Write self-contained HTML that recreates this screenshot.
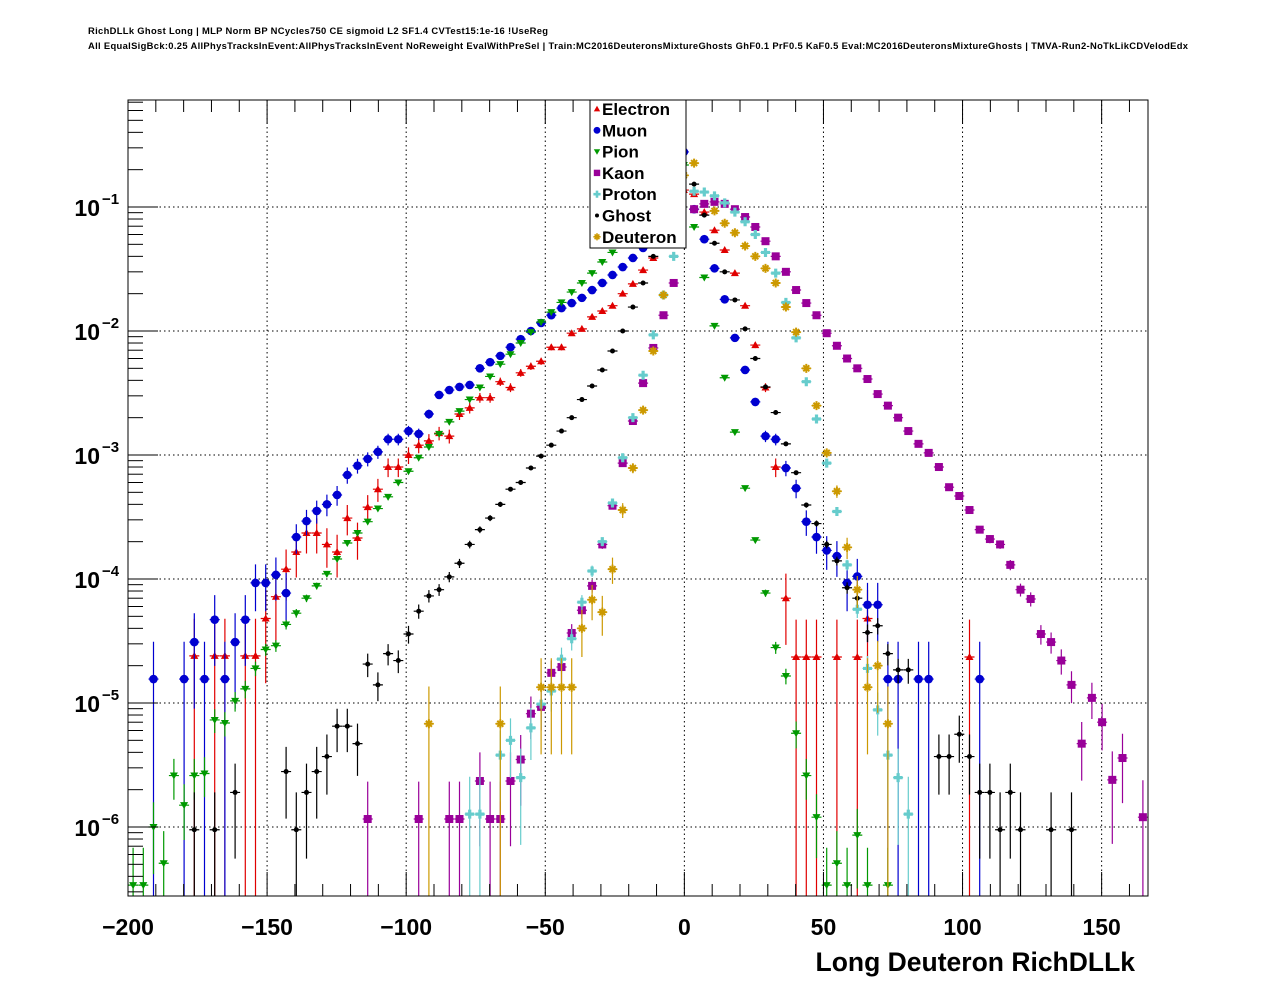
<!DOCTYPE html>
<html><head><meta charset="utf-8">
<style>
html,body{margin:0;padding:0;background:#fff;}
svg{display:block;font-family:"Liberation Sans",sans-serif;}
</style></head>
<body>
<svg id="chart" width="1276" height="996" viewBox="0 0 1276 996">
<text x="88" y="34" font-size="9.4" font-weight="bold" textLength="460">RichDLLk Ghost Long | MLP Norm BP NCycles750 CE sigmoid L2 SF1.4 CVTest15:1e-16 !UseReg</text>
<text x="88" y="49" font-size="9.4" font-weight="bold" textLength="1100">All EqualSigBck:0.25 AllPhysTracksInEvent:AllPhysTracksInEvent NoReweight EvalWithPreSel | Train:MC2016DeuteronsMixtureGhosts GhF0.1 PrF0.5 KaF0.5 Eval:MC2016DeuteronsMixtureGhosts | TMVA-Run2-NoTkLikCDVelodEdx</text>
<g id="grid"></g>
<g id="series"></g>
<rect x="128" y="100" width="1020" height="796" fill="none" stroke="#000" stroke-width="1"/>
<g id="ticks"></g>
<g id="legend"></g>
<text x="1135" y="971" font-size="26.5" font-weight="bold" text-anchor="end">Long Deuteron RichDLLk</text>
</svg>
<script>
// ---- data ----
const xTickLabels = [-200, -150, -100, -50, 0, 50, 100, 150];
const yTickExps = [-1, -2, -3, -4, -5, -6];
const seriesNames = ["Electron","Muon","Pion","Kaon","Proton","Ghost","Deuteron"];

const electronBins = [6,8,9,11,12,13,14,15,16,17,18,19,20,21,22,23,24,25,26,27,28,29,30,31,32,33,34,35,36,37,38,39,40,41,42,43,44,45,46,47,48,49,50,51,52,53,54,55,56,57,58,59,60,61,62,63,64,65,66,67,69,71,72,82];
const electronVals = [2.4e-5,2.4e-5,2.4e-5,2.4e-5,2.4e-5,4.8e-5,7.2e-5,1.2e-4,1.65e-4,2.35e-4,2.35e-4,1.9e-4,1.65e-4,3.1e-4,2.14e-4,3.8e-4,5.3e-4,8.0e-4,8.0e-4,1.0e-3,1.2e-3,1.3e-3,1.5e-3,1.42e-3,2.14e-3,2.4e-3,2.9e-3,2.9e-3,3.9e-3,3.5e-3,4.6e-3,5.2e-3,5.7e-3,7.4e-3,7.4e-3,9.6e-3,1.04e-2,1.3e-2,1.45e-2,1.6e-2,2.0e-2,2.4e-2,3.1e-2,3.88e-2,5.4e-2,8.6e-2,0.137,0.127,9.1e-2,6.5e-2,4.5e-2,2.93e-2,1.6e-2,7.7e-3,3.5e-3,8.0e-4,7.0e-5,2.35e-5,2.35e-5,2.35e-5,2.35e-5,2.35e-5,4.8e-5,2.35e-5];

const muonBins = [2,5,6,7,8,9,10,11,12,13,14,15,16,17,18,19,20,21,22,23,24,25,26,27,28,29,30,31,32,33,34,35,36,37,38,39,40,41,42,43,44,45,46,47,48,49,50,51,52,53,54,55,56,57,58,59,60,61,62,63,64,65,66,67,68,69,70,71,72,73,74,75,77,78,83];
const muonVals = [1.56e-5,1.56e-5,3.1e-5,1.56e-5,4.7e-5,1.56e-5,3.1e-5,4.7e-5,9.3e-5,9.3e-5,1.08e-4,7.7e-5,2.18e-4,2.93e-4,3.54e-4,4.0e-4,4.76e-4,6.9e-4,8.2e-4,9.3e-4,1.06e-3,1.34e-3,1.34e-3,1.56e-3,1.48e-3,2.14e-3,3.05e-3,3.34e-3,3.54e-3,3.67e-3,5.0e-3,5.6e-3,6.3e-3,7.4e-3,8.6e-3,1.0e-2,1.16e-2,1.34e-2,1.53e-2,1.68e-2,1.85e-2,2.14e-2,2.44e-2,2.83e-2,3.28e-2,3.88e-2,4.67e-2,5.4e-2,6.8e-2,0.114,0.278,9.6e-2,5.5e-2,3.2e-2,1.8e-2,8.8e-3,4.85e-3,2.68e-3,1.42e-3,1.34e-3,7.85e-4,5.4e-4,2.9e-4,2.18e-4,1.7e-4,1.53e-4,9.3e-5,1.05e-4,6.2e-5,6.2e-5,1.56e-5,1.56e-5,1.56e-5,1.56e-5,1.56e-5];

const pionBins = [0,1,2,3,4,5,6,7,8,9,10,11,12,13,14,15,16,17,18,19,20,21,22,23,24,25,26,27,28,29,30,31,32,33,34,35,36,37,38,39,40,41,42,43,44,45,46,47,48,49,50,51,52,53,54,55,56,57,58,59,60,61,62,63,64,65,66,67,68,69,70,71,72,74];
const pionVals = [3.4e-7,3.4e-7,1.0e-6,5.1e-7,2.6e-6,1.5e-6,2.6e-6,2.7e-6,7.3e-6,6.9e-6,1.04e-5,1.3e-5,1.9e-5,2.7e-5,2.9e-5,4.3e-5,5.3e-5,7.0e-5,8.8e-5,1.1e-4,1.45e-4,1.95e-4,2.35e-4,2.9e-4,3.7e-4,4.6e-4,6.0e-4,7.4e-4,9.5e-4,1.16e-3,1.48e-3,1.85e-3,2.26e-3,2.8e-3,3.5e-3,4.3e-3,5.4e-3,6.5e-3,8.0e-3,9.8e-3,1.18e-2,1.42e-2,1.7e-2,2.06e-2,2.44e-2,2.93e-2,3.6e-2,4.3e-2,5.2e-2,6.5e-2,8.2e-2,0.104,0.132,0.17,0.218,6.9e-2,2.7e-2,1.1e-2,4.2e-3,1.53e-3,5.4e-4,2.06e-4,7.7e-5,2.8e-5,1.65e-5,5.7e-6,2.6e-6,1.2e-6,3.4e-7,5.1e-7,3.4e-7,8.6e-7,3.4e-7,3.4e-7];

const kaonBins = [23,28,31,32,34,35,36,37,38,39,40,41,42,43,44,45,46,47,48,49,50,51,52,53,55,56,57,58,59,60,61,62,63,64,65,66,67,68,69,70,71,72,73,74,75,76,77,78,79,80,81,82,83,84,85,86,87,88,89,90,91,92,93,94,95,96,97,99];
const kaonVals = [1.16e-6,1.16e-6,1.16e-6,1.16e-6,2.35e-6,1.16e-6,1.16e-6,2.35e-6,3.5e-6,8.2e-6,9.3e-6,1.75e-5,1.95e-5,3.67e-5,5.6e-5,8.8e-5,1.9e-4,3.9e-4,8.6e-4,1.88e-3,3.8e-3,7.3e-3,1.34e-2,2.44e-2,9.6e-2,0.106,0.11,0.106,9.6e-2,8.3e-2,6.9e-2,5.3e-2,4.0e-2,3.0e-2,2.14e-2,1.68e-2,1.34e-2,9.6e-3,7.6e-3,6.0e-3,5.0e-3,4.1e-3,3.1e-3,2.5e-3,2.0e-3,1.56e-3,1.23e-3,1.04e-3,8.0e-4,5.5e-4,4.67e-4,3.6e-4,2.5e-4,2.1e-4,1.9e-4,1.3e-4,8.2e-5,6.9e-5,3.6e-5,3.1e-5,2.2e-5,1.4e-5,4.7e-6,1.1e-5,7.0e-6,2.4e-6,3.6e-6,1.2e-6];

const protonBins = [33,34,36,37,38,39,40,41,42,43,44,45,46,47,48,49,50,51,52,53,55,56,57,58,59,60,61,62,63,64,65,66,67,68,69,70,71,72,73,74,75,76];
const protonVals = [1.27e-6,1.27e-6,3.8e-6,5.0e-6,2.5e-6,6.3e-6,9.8e-6,1.25e-5,2.26e-5,3.3e-5,6.5e-5,1.16e-4,2.0e-4,4.1e-4,9.5e-4,2.0e-3,4.4e-3,9.3e-3,1.95e-2,4.0e-2,0.134,0.132,0.123,0.108,9.1e-2,7.6e-2,6.0e-2,4.3e-2,2.93e-2,1.7e-2,8.8e-3,3.9e-3,1.95e-3,8.6e-4,3.5e-4,1.3e-4,5.7e-5,1.9e-5,8.8e-6,3.8e-6,2.5e-6,1.27e-6];

const ghostBins = [6,8,10,15,16,17,18,19,20,21,22,23,24,25,26,27,28,29,30,31,32,33,34,35,36,37,38,39,40,41,42,43,44,45,46,47,48,49,50,51,55,56,57,58,59,60,61,62,63,64,65,66,67,68,69,70,71,72,73,74,75,76,79,80,81,82,83,84,85,86,87,90,92];
const ghostVals = [9.5e-7,9.5e-7,1.9e-6,2.8e-6,9.5e-7,1.9e-6,2.8e-6,3.7e-6,6.5e-6,6.5e-6,4.7e-6,2.06e-5,1.4e-5,2.5e-5,2.2e-5,3.6e-5,5.5e-5,7.3e-5,8.2e-5,1.04e-4,1.34e-4,1.9e-4,2.5e-4,3.1e-4,4.0e-4,5.3e-4,6.0e-4,7.85e-4,9.8e-4,1.2e-3,1.56e-3,2.0e-3,2.8e-3,3.6e-3,4.85e-3,6.9e-3,1.0e-2,1.56e-2,2.44e-2,4.0e-2,0.153,8.6e-2,5.1e-2,3.0e-2,1.78e-2,1.04e-2,6.0e-3,3.54e-3,2.2e-3,1.23e-3,7.2e-4,3.95e-4,2.8e-4,1.9e-4,1.4e-4,8.5e-5,7.0e-5,3.7e-5,4.2e-5,2.5e-5,1.85e-5,1.85e-5,3.7e-6,3.7e-6,5.6e-6,3.7e-6,1.9e-6,1.9e-6,9.5e-7,1.9e-6,9.5e-7,9.5e-7,9.5e-7];

const deuteronBins = [29,36,40,41,42,43,44,45,46,47,48,49,50,51,52,54,55,57,58,59,60,61,62,63,64,65,66,67,68,69,70,71,72,73,74];
const deuteronVals = [6.8e-6,6.8e-6,1.34e-5,1.34e-5,1.34e-5,1.34e-5,4.0e-5,6.8e-5,5.4e-5,1.2e-4,3.6e-4,7.85e-4,2.3e-3,6.9e-3,1.95e-2,0.18,0.226,9.3e-2,7.4e-2,6.2e-2,4.85e-2,4.0e-2,3.2e-2,2.44e-2,1.56e-2,9.8e-3,5.0e-3,2.5e-3,1.04e-3,5.1e-4,1.8e-4,8.2e-5,1.34e-5,2.0e-5,6.8e-6];

// ---- axes ----
const NS = "http://www.w3.org/2000/svg";
const X0 = 128, X1 = 1148, Y0 = 100, Y1 = 896;
const XMIN = -200, XMAX = 166.667, NBINS = 100;
const BINW = (XMAX - XMIN) / NBINS;
function xPix(v){ return X0 + (v - XMIN) / (XMAX - XMIN) * (X1 - X0); }
function yPix(v){ return 207 - (Math.log10(v) + 1) * 124; }
function binCenter(k){ return XMIN + (k + 0.5) * BINW; }
function mk(tag, attrs, parent){
  const e = document.createElementNS(NS, tag);
  for (const k in attrs) e.setAttribute(k, attrs[k]);
  parent.appendChild(e);
  return e;
}
const grid = document.getElementById('grid');
const ticks = document.getElementById('ticks');
const svg = document.getElementById('chart');

xTickLabels.forEach(v => {
  const px = xPix(v);
  if (v > XMIN) {
    const g = mk('line', {x1:px, x2:px, y1:Y0, y2:Y1, stroke:'#000', 'stroke-width':1, 'stroke-dasharray':'1.5,3'}, grid);
    
    
  }
  const t = mk('line', {x1:px, x2:px, y1:Y1, y2:Y1-24, stroke:'#000', 'stroke-width':1}, ticks);
  
  
  const t2 = mk('line', {x1:px, x2:px, y1:Y0, y2:Y0+24, stroke:'#000', 'stroke-width':1}, ticks);
  
  
  const lb = mk('text', {x:px, y:935, 'font-size':23, 'font-weight':'bold', 'text-anchor':'middle'}, svg);
  lb.textContent = (v < 0 ? '\u2212' + Math.abs(v) : String(v));
  
  
});
for (let v = XMIN; v <= XMAX; v += 10) {
  if (v % 50 === 0) continue;
  const px = xPix(v);
  const t = mk('line', {x1:px, x2:px, y1:Y1, y2:Y1-12, stroke:'#000', 'stroke-width':1}, ticks);
  
  
  const t2 = mk('line', {x1:px, x2:px, y1:Y0, y2:Y0+12, stroke:'#000', 'stroke-width':1}, ticks);
  
  
}
yTickExps.forEach(e => {
  const py = yPix(Math.pow(10, e));
  const g = mk('line', {x1:X0, x2:X1, y1:py, y2:py, stroke:'#000', 'stroke-width':1, 'stroke-dasharray':'1.5,3'}, grid);
  
  
  const lb = mk('text', {x:100, y:py+9, 'font-size':23, 'font-weight':'bold', 'text-anchor':'end'}, svg);
  lb.textContent = '10';
  
  
  const sup = mk('text', {x:102, y:py-3, 'font-size':15, 'font-weight':'bold', 'text-anchor':'start'}, svg);
  sup.textContent = '\u2212' + Math.abs(e);
  
  
});
for (let d = -7; d <= 0; d++) {
  for (let m = 1; m <= 9; m++) {
    const v = m * Math.pow(10, d);
    const py = yPix(v);
    if (py < Y0 || py > Y1) continue;
    const len = m === 1 ? 30 : 15;
    const t = mk('line', {x1:X0, x2:X0+len, y1:py, y2:py, stroke:'#000', 'stroke-width':1}, ticks);
    
    
  }
}

// ---- markers ----
function drawMarker(kind, color, cx, cy, parent){
  let el;
  if (kind === 'tu') el = mk('polygon', {points:`${cx},${cy-4} ${cx-4},${cy+3} ${cx+4},${cy+3}`, fill:color}, parent);
  else if (kind === 'td') el = mk('polygon', {points:`${cx},${cy+4} ${cx-4},${cy-3} ${cx+4},${cy-3}`, fill:color}, parent);
  else if (kind === 'ci') el = mk('circle', {cx:cx, cy:cy, r:4.3, fill:color}, parent);
  else if (kind === 'sq') el = mk('rect', {x:cx-4, y:cy-4, width:8, height:8, fill:color}, parent);
  else if (kind === 'pl') el = mk('path', {d:`M${cx-4.5},${cy}H${cx+4.5}M${cx},${cy-4.5}V${cy+4.5}`, stroke:color, 'stroke-width':3.2, fill:'none'}, parent);
  else if (kind === 'dot') el = mk('circle', {cx:cx, cy:cy, r:2.5, fill:color}, parent);
  else el = mk('path', {d:`M${cx-4.5},${cy}H${cx+4.5}M${cx},${cy-4.5}V${cy+4.5}M${cx-3},${cy-3}L${cx+3},${cy+3}M${cx-3},${cy+3}L${cx+3},${cy-3}`, stroke:color, 'stroke-width':2, fill:'none'}, parent);
  return el;
}
const styles = [
  {bins:electronBins, vals:electronVals, color:'#e00000', kind:'tu'},
  {bins:muonBins, vals:muonVals, color:'#0000d0', kind:'ci'},
  {bins:pionBins, vals:pionVals, color:'#009900', kind:'td'},
  {bins:kaonBins, vals:kaonVals, color:'#990099', kind:'sq'},
  {bins:protonBins, vals:protonVals, color:'#66cccc', kind:'pl'},
  {bins:ghostBins, vals:ghostVals, color:'#000000', kind:'dot'},
  {bins:deuteronBins, vals:deuteronVals, color:'#cc9900', kind:'st'}
];
const layer = document.getElementById('series');
styles.forEach((s, si) => {
  const g = mk('g', {}, layer);
  
  
  const unit = Math.min.apply(null, s.vals);
  s.bins.forEach((k, i) => {
    const v = s.vals[i];
    const cx = xPix(binCenter(k));
    const cy = yPix(v);
    const rel = 1 / Math.sqrt(v / unit);
    const top = Math.max(Y0, yPix(v * (1 + rel)));
    const lo = v * (1 - rel);
    const bot = lo <= 0 ? Y1 : Math.min(Y1, yPix(lo));
    if (cy < Y0 || cy > Y1) return;
    const eb = mk('path', {d:`M${cx},${top}V${bot}M${cx-5},${cy}H${cx+5}`, stroke:s.color, 'stroke-width':1.2, fill:'none'}, g);
    
    
    const m = drawMarker(s.kind, s.color, cx, cy, g);
    
    
  });
});

// ---- legend ----
const lg = document.getElementById('legend');
const box = mk('rect', {x:590, y:100, width:96, height:148, fill:'#fff', stroke:'#000', 'stroke-width':1}, lg);


seriesNames.forEach((n, i) => {
  const y = 109 + i * 21.3;
  const ent = mk('g', {}, lg);
  
  
  const st = styles[i];
  const sm = drawMarker(st.kind, st.color, 597, y, ent);
  sm.setAttribute('transform', `translate(597 ${y}) scale(0.8) translate(-597 ${-y})`);
  
  
  const t = mk('text', {x:602, y:y+6, 'font-size':17, 'font-weight':'bold'}, ent);
  t.textContent = n;
  
  
});
</script>
</body></html>
